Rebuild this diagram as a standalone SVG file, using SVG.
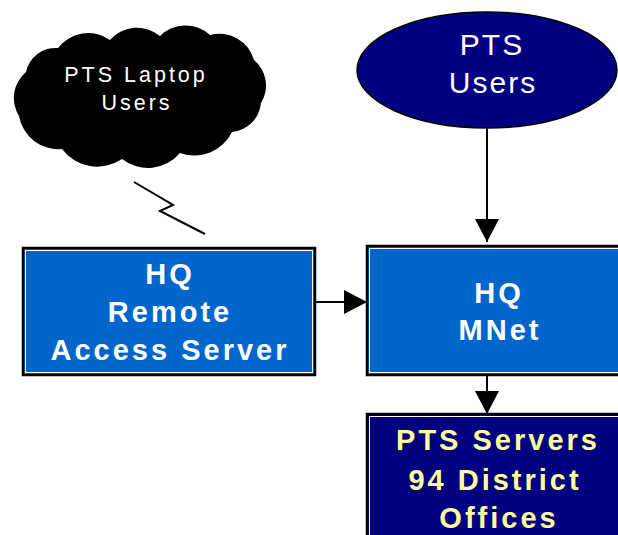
<svg xmlns="http://www.w3.org/2000/svg" width="618" height="535" viewBox="0 0 618 535">
<style>
.box{stroke:#000;stroke-width:2.5}
.inner{fill:none;stroke:#fff;stroke-width:1}
.bt{font-family:"Liberation Sans",Arial,sans-serif;font-weight:bold;font-size:29px;letter-spacing:3px;text-anchor:middle;fill:#fff}
.nt{font-family:"Liberation Sans",Arial,sans-serif;text-anchor:middle;fill:#fff}
.conn{stroke:#000;stroke-width:2;fill:none}
</style>
<defs>
<marker id="ah" markerWidth="26" markerHeight="24" refX="23" refY="12" orient="auto" markerUnits="userSpaceOnUse">
<path d="M0,0 L23,12 L0,24 Z" fill="#000"/>
</marker>
</defs>
<rect width="618" height="535" fill="#fff"/>
<g id="laptop-users">
<path d="M26 72 A30 30 0 0 1 58 48 A38 38 0 0 1 110 40 A36 36 0 0 1 160 36 A36 36 0 0 1 210 35 A36 36 0 0 1 254 60 A33 33 0 0 1 261 103 A32 32 0 0 1 232 132 A42 42 0 0 1 180 153 A42 42 0 0 1 122 159 A44 44 0 0 1 62 149 A40 40 0 0 1 19 116 A34 34 0 0 1 26 72 Z" fill="#000"/>
<text class="nt" x="136" y="82" font-size="21.5" letter-spacing="3">PTS Laptop</text>
<text class="nt" x="137" y="110" font-size="21.5" letter-spacing="3">Users</text>
</g>
<g id="pts-users">
<ellipse cx="487" cy="70" rx="130" ry="58" fill="#000080" stroke="#000" stroke-width="1.5"/>
<text class="nt" x="492" y="55" font-size="30" letter-spacing="2">PTS</text>
<text class="nt" x="493" y="93" font-size="30" letter-spacing="2">Users</text>
</g>
<g id="remote-access">
<rect class="box" x="23" y="248" width="292" height="127" fill="#0066CC"/>
<rect class="inner" x="25.5" y="250.5" width="287" height="122"/>
<text class="bt" x="170" y="284">HQ</text>
<text class="bt" x="170" y="322">Remote</text>
<text class="bt" x="170" y="360">Access Server</text>
</g>
<g id="hq-mnet">
<rect class="box" x="367" y="246" width="256" height="129" fill="#0066CC"/>
<rect class="inner" x="369.5" y="248.5" width="251" height="124"/>
<text class="bt" x="499" y="303" letter-spacing="4">HQ</text>
<text class="bt" x="500" y="340" letter-spacing="5">MNet</text>
</g>
<g id="pts-servers">
<rect class="box" x="367" y="414" width="256" height="130" fill="#000080"/>
<rect class="inner" x="369.5" y="416.5" width="251" height="125"/>
<text class="bt" x="498" y="450" style="fill:#FFFF99">PTS Servers</text>
<text class="bt" x="495" y="490" style="fill:#FFFF99">94 District</text>
<text class="bt" x="499" y="528" style="fill:#FFFF99">Offices</text>
</g>
<g id="connectors">
<polyline class="conn" points="134,182 173,205 160,211 205,234" stroke-width="2.5"/>
<line class="conn" x1="487" y1="128" x2="487" y2="242" marker-end="url(#ah)"/>
<line class="conn" x1="315" y1="302" x2="367" y2="302" marker-end="url(#ah)"/>
<line class="conn" x1="487" y1="375" x2="487" y2="414" marker-end="url(#ah)"/>
</g>
</svg>
